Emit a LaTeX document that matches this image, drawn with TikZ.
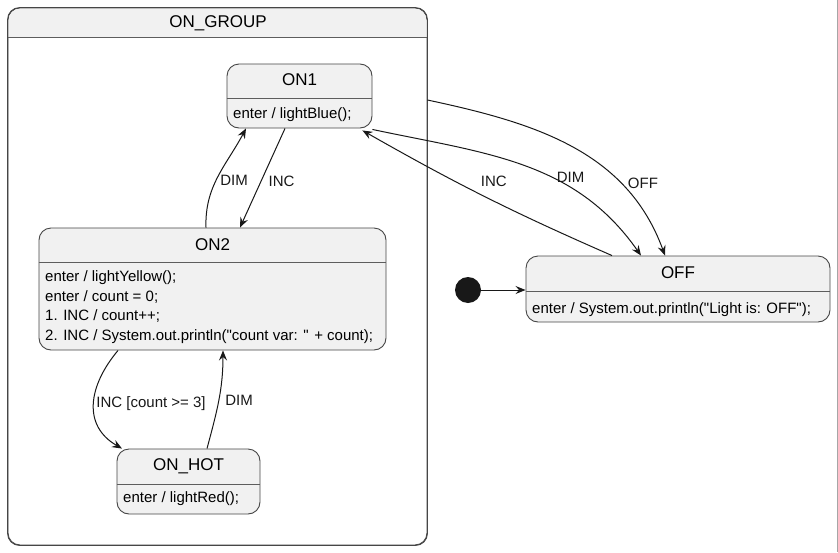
\documentclass[tikz,border=0pt]{standalone}
\usepackage{fontspec}
\setmainfont{Liberation Sans}
\usetikzlibrary{arrows.meta}
\definecolor{boxfill}{HTML}{F1F1F1}
\definecolor{boxline}{HTML}{181818}
\tikzset{
  state/.style={draw=boxline!80, fill=boxfill, rounded corners=12pt, line width=0.9pt, inner sep=0pt},
  group/.style={draw=boxline!80, fill=white, rounded corners=12pt, line width=0.9pt, inner sep=0pt},
  divider/.style={draw=boxline!70, line width=0.8pt},
  title/.style={font=\fontsize{17}{19}\selectfont, inner sep=0pt},
  body/.style={font=\fontsize{15}{19.5}\selectfont, inner sep=0pt, anchor=north west, align=left},
  trans/.style={draw=boxline, line width=1pt, -{Stealth[length=10pt,width=8pt,inset=3.5pt]}},
  lbl/.style={font=\fontsize{15}{17}\selectfont, text=boxline, inner sep=0pt}
}
\begin{document}
\begin{tikzpicture}[x=1pt,y=-1pt]
  \useasboundingbox (0,0) rectangle (838,552);
  \draw[gray!70, line width=1pt] (837.5,0) -- (837.5,552);
  % composite state
  \node[group, minimum width=419pt, minimum height=537pt] (grp) at (217.5,276.5) {};
  \fill[boxfill] (8.5,37) [rounded corners=12pt] -- (8.5,8.5) -- (426.5,8.5) [sharp corners] -- (426.5,37) -- cycle;
  \draw[boxline!80, line width=0.9pt, rounded corners=12pt] (grp.south west) rectangle (grp.north east);
  \draw[divider] (grp.west |- 0,37) -- (grp.east |- 0,37);
  \node[title] (grptitle) at (218,23) {ON\_GROUP};
  % states
  \node[state, minimum width=145pt, minimum height=64pt] (on1) at (299.5,96) {};
  \draw[divider] (on1.west |- 0,98) -- (on1.east |- 0,98);
  \node[title] (on1title) at (on1.center |- 0,80) {ON1};
  \node[body] (on1body) at (233,107.5) {enter / lightBlue();};
  \node[state, minimum width=347pt, minimum height=122pt] (on2) at (212.5,289) {};
  \draw[divider] (on2.west |- 0,262) -- (on2.east |- 0,262);
  \node[title] (on2title) at (on2.center |- 0,245) {ON2};
  \node[body] (on2body) at (45,270.5) {enter / lightYellow();\\enter / count = 0;\\1. INC / count++;\\2. INC / System.out.println(\textquotedbl count var: \textquotedbl{} + count);};
  \node[state, minimum width=143pt, minimum height=65pt] (onhot) at (188.5,481.5) {};
  \draw[divider] (onhot.west |- 0,484) -- (onhot.east |- 0,484);
  \node[title] (onhottitle) at (onhot.center |- 0,466) {ON\_HOT};
  \node[body] (onhotbody) at (123,491.5) {enter / lightRed();};
  \node[state, minimum width=304pt, minimum height=66pt] (off) at (678,289) {};
  \draw[divider] (off.west |- 0,291) -- (off.east |- 0,291);
  \node[title] (offtitle) at (off.center |- 0,273) {OFF};
  \node[body] (offbody) at (532,302.5) {enter / System.out.println(\textquotedbl Light is: OFF\textquotedbl);};
  \node[circle, fill=boxline, minimum size=26pt, inner sep=0pt] (init) at (468,290) {};
  % transitions
  \draw[trans] (init) -- (off.west |- init);
  \draw[trans] ([xshift=-14.5pt]on1.south) -- node[lbl, right=7pt, pos=0.53] {INC} ([xshift=27.5pt]on2.north);
  \draw[trans] ([xshift=-6.5pt]on2.north) to[out=92, in=-118] node[lbl, right=4pt, pos=0.45] {DIM} ([xshift=-53.5pt]on1.south);
  \draw[trans] ([xshift=-94.5pt]on2.south) to[out=-130, in=150, looseness=1.2] node[lbl, anchor=west, pos=0.5, xshift=2pt] {INC [count >= 3]} ([xshift=-66.5pt]onhot.north);
  \draw[trans] ([xshift=18.5pt]onhot.north) to[out=75, in=-90] node[lbl, right=6pt, pos=0.5] {DIM} ([xshift=10.5pt]on2.south);
  \draw[trans] ([xshift=-66pt]off.north) to[bend left=3] node[lbl, above=12pt, pos=0.48, xshift=4pt] {INC} ([xshift=-10pt,yshift=-2pt]on1.south east);
  \draw[trans] ([yshift=-1pt]on1.south east) to[out=-12, in=125] node[lbl, anchor=south west, pos=0.6, xshift=6pt, yshift=-6pt] {DIM} ([xshift=-37pt]off.north);
  \draw[trans] (grp.east |- 0,100) to[out=-12, in=110] node[lbl, anchor=west, pos=0.7, xshift=10pt, yshift=-3pt] {OFF} ([xshift=-13pt]off.north);
\end{tikzpicture}
\end{document}
